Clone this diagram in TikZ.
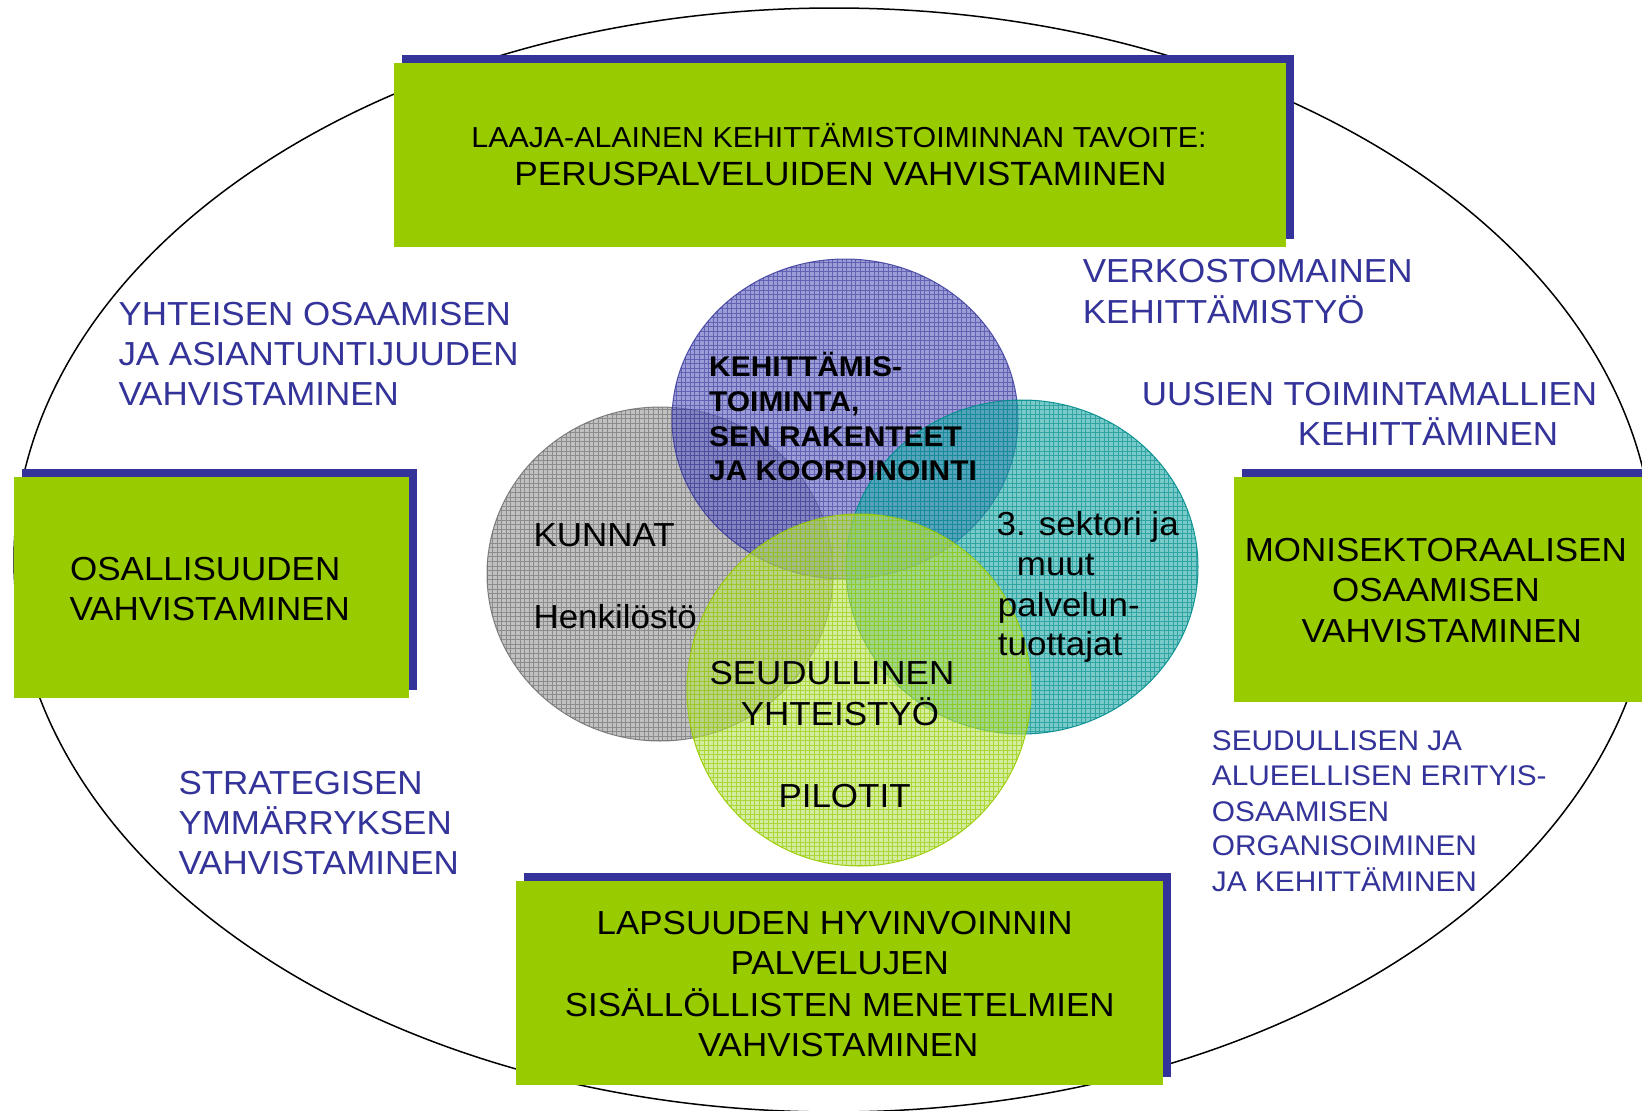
\documentclass[tikz,border=0pt]{standalone}
\usepackage{fontspec}
\setmainfont{Liberation Sans}[FakeStretch=1.05]
\definecolor{boxgreen}{HTML}{99CC00}
\definecolor{navy}{HTML}{333399}
\definecolor{purfill}{HTML}{6060C0}
\definecolor{purgrid}{HTML}{333399}
\definecolor{grayfill}{HTML}{999999}
\definecolor{graygrid}{HTML}{6A6A6A}
\definecolor{tealfill}{HTML}{2AAAAA}
\definecolor{tealgrid}{HTML}{008C8C}
\definecolor{grnfill}{HTML}{B8E060}
\definecolor{grngrid}{HTML}{99CC00}
\tikzset{
  txtL/.style={inner sep=0pt, anchor=base west},
  txtC/.style={inner sep=0pt, anchor=base},
  fsN/.style={font=\fontsize{33.3}{40}\selectfont},
  fsS/.style={font=\fontsize{28.4}{34}\selectfont},
  fsB/.style={font=\fontsize{28.5}{34}\selectfont\bfseries},
  bluetext/.style={text=navy},
  gbox/.style={fill=boxgreen},
  gshadow/.style={fill=navy},
}
\begin{document}
\begin{tikzpicture}[x=1pt,y=-1pt]
\useasboundingbox (0,1111) rectangle (1642,0);
\clip (0,1111) rectangle (1642,0);
\fill[white] (0,1111) rectangle (1642,0);

% outer ellipse
\draw[black, line width=1.5pt] (834,560) ellipse [x radius=820, y radius=552];

% boxes with shadows
\fill[gshadow] (401.5,55) rectangle (1293.5,239);
\fill[gbox] (394,63) rectangle (1286,247);
\fill[gshadow] (21.5,469) rectangle (416.5,690);
\fill[gbox] (14,477) rectangle (409,698);
\fill[gshadow] (1241.5,469) rectangle (1660,694);
\fill[gbox] (1234,477) rectangle (1660,702);
\fill[gshadow] (523.5,873) rectangle (1170.5,1077);
\fill[gbox] (516,881) rectangle (1163,1085);

% circles
\begin{scope}
  \clip (660,574) ellipse [x radius=173, y radius=167];
  \fill[grayfill, opacity=0.6] (660,574) ellipse [x radius=173, y radius=167];
  \draw[graygrid, line width=0.5pt, opacity=0.6, step=4.6pt] (480,760) grid (840,400);
\end{scope}
\draw[graygrid, line width=1pt, opacity=0.8] (660,574) ellipse [x radius=173, y radius=167];

\begin{scope}
  \clip (845,419) ellipse [x radius=173, y radius=160];
  \fill[purfill, opacity=0.62] (845,419) ellipse [x radius=173, y radius=160];
  \draw[purgrid, line width=0.5pt, opacity=0.55, step=4.6pt] (660,590) grid (1030,250);
\end{scope}
\draw[purgrid, line width=1pt, opacity=0.8] (845,419) ellipse [x radius=173, y radius=160];

\begin{scope}
  \clip (1022,567) ellipse [x radius=176, y radius=167];
  \fill[tealfill, opacity=0.62] (1022,567) ellipse [x radius=176, y radius=167];
  \draw[tealgrid, line width=0.5pt, opacity=0.6, step=4.6pt] (840,740) grid (1205,395);
\end{scope}
\draw[tealgrid, line width=1pt, opacity=0.9] (1022,567) ellipse [x radius=176, y radius=167];

\begin{scope}
  \clip (859,690) ellipse [x radius=172, y radius=176];
  \fill[grnfill, opacity=0.6] (859,690) ellipse [x radius=172, y radius=176];
  \draw[grngrid, line width=0.5pt, opacity=0.65, step=4.6pt] (680,870) grid (1040,510);
\end{scope}
\draw[grngrid, line width=1pt, opacity=0.9] (859,690) ellipse [x radius=172, y radius=176];

% top box text
\node[txtC, font=\fontsize{28.9}{34}\selectfont] (t1) at (839,147.3) {LAAJA-ALAINEN KEHITTÄMISTOIMINNAN TAVOITE:};
\node[txtC, font=\fontsize{33.6}{40}\selectfont] (t2) at (840.5,185.7) {PERUSPALVELUIDEN VAHVISTAMINEN};

% left box
\node[txtL, fsN] (l1) at (70,580) {OSALLISUUDEN};
\node[txtL, fsN] (l2) at (69.3,620.7) {VAHVISTAMINEN};

% right box
\node[txtC, fsN] (r1) at (1435.8,561) {MONISEKTORAALISEN};
\node[txtC, fsN] (r2) at (1436,601.7) {OSAAMISEN};
\node[txtC, fsN] (r3) at (1441.7,642.7) {VAHVISTAMINEN};

% bottom box
\node[txtC, fsN] (b1) at (834.6,934) {LAPSUUDEN HYVINVOINNIN};
\node[txtC, fsN] (b2) at (839.8,974.3) {PALVELUJEN};
\node[txtC, fsN] (b3) at (839.8,1016) {SISÄLLÖLLISTEN MENETELMIEN};
\node[txtC, fsN] (b4) at (838.2,1056.7) {VAHVISTAMINEN};

% blue texts
\node[txtL, fsN, bluetext] (y1) at (118.3,325) {YHTEISEN OSAAMISEN};
\node[txtL, fsN, bluetext] (y2) at (118.3,365) {JA ASIANTUNTIJUUDEN};
\node[txtL, fsN, bluetext] (y3) at (118.3,405) {VAHVISTAMINEN};

\node[txtL, fsN, bluetext] (v1) at (1082.7,282.7) {VERKOSTOMAINEN};
\node[txtL, fsN, bluetext] (v2) at (1082.7,323.3) {KEHITTÄMISTYÖ};

\node[txtL, fsN, bluetext] (u1) at (1141.7,405) {UUSIEN TOIMINTAMALLIEN};
\node[txtL, fsN, bluetext] (u2) at (1297.7,445) {KEHITTÄMINEN};

\node[txtL, fsN, bluetext] (s1) at (178.3,794.3) {STRATEGISEN};
\node[txtL, fsN, bluetext] (s2) at (178.3,834.3) {YMMÄRRYKSEN};
\node[txtL, fsN, bluetext] (s3) at (178.3,874) {VAHVISTAMINEN};

\node[txtL, fsS, bluetext] (e1) at (1211.7,750) {SEUDULLISEN JA};
\node[txtL, fsS, bluetext] (e2) at (1211.7,785.7) {ALUEELLISEN ERITYIS-};
\node[txtL, fsS, bluetext] (e3) at (1211.7,821) {OSAAMISEN};
\node[txtL, fsS, bluetext] (e4) at (1211.7,855.7) {ORGANISOIMINEN};
\node[txtL, fsS, bluetext] (e5) at (1211.7,891.7) {JA KEHITTÄMINEN};

% circle texts
\node[txtL, fsB] (k1) at (709,376.7) {KEHITTÄMIS-};
\node[txtL, fsB] (k2) at (709,411) {TOIMINTA,};
\node[txtL, fsB] (k3) at (709,446) {SEN RAKENTEET};
\node[txtL, fsB] (k4) at (709,480.7) {JA KOORDINOINTI};

\node[txtL, fsN] (ku) at (533.3,546.7) {KUNNAT};
\node[txtL, fsN] (he) at (533.3,628.3) {Henkilöstö};

\node[txtL, fsN] (se1) at (709.3,684) {SEUDULLINEN};
\node[txtL, fsN] (se2) at (740.7,725.7) {YHTEISTYÖ};
\node[txtL, fsN] (pi) at (778.3,807.3) {PILOTIT};

\node[txtL, fsN] (m1) at (996.5,535) {3. sektori ja};
\node[txtL, fsN] (m2) at (1016.7,575) {muut};
\node[txtL, fsN] (m3) at (997.7,616) {palvelun-};
\node[txtL, fsN] (m4) at (997.7,655) {tuottajat};
\end{tikzpicture}
\end{document}
